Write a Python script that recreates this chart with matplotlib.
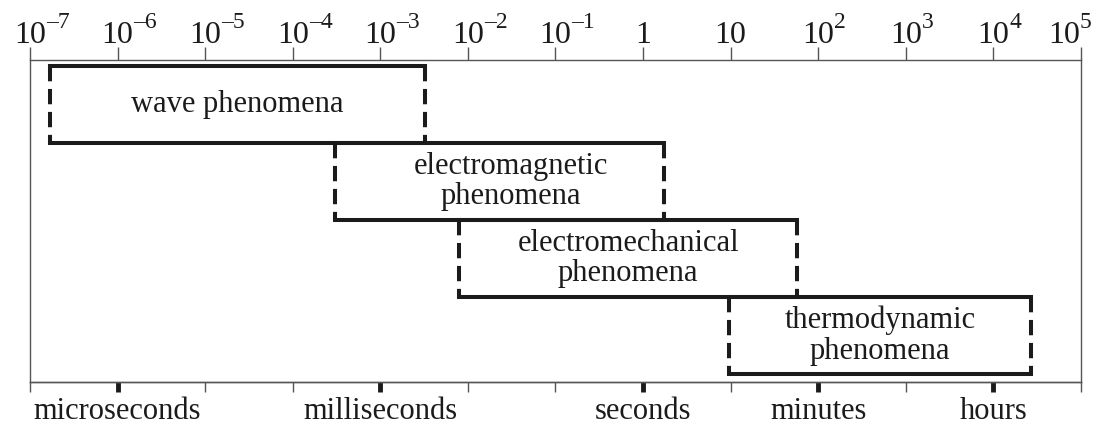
import numpy as np
import matplotlib
matplotlib.use("Agg")
import matplotlib.pyplot as plt
import matplotlib.transforms as mtransforms
from matplotlib.ticker import FixedLocator, NullFormatter

plt.rcParams.update({
    "font.family": "serif",
    "font.serif": ["Liberation Serif", "DejaVu Serif"],
    "figure.facecolor": "white",
    "axes.facecolor": "white",
})

INK = "#1b1b1b"
AXIS = "#555555"

# time ranges (s) over which each class of phenomena is studied
labels = ["wave phenomena", "electromagnetic\nphenomena",
          "electromechanical\nphenomena", "thermodynamic\nphenomena"]
t_start = [1.7e-7, 3.0e-4, 8.0e-3, 9.6]
t_end = [3.2e-3, 1.75, 57.0, 2.7e4]

# top scale: one tick per decade (base text + exponent)
decades = [1e-7, 1e-6, 1e-5, 1e-4, 1e-3, 1e-2, 1e-1, 1, 10, 1e2, 1e3, 1e4, 1e5]
bases = ["10"] * 7 + ["1", "10"] + ["10"] * 4
exps = ["\u20137", "\u20136", "\u20135", "\u20134", "\u20133", "\u20132", "\u20131",
        "", "", "2", "3", "4", "5"]

# bottom scale: named time units
unit_ticks = [1e-6, 1e-3, 1, 1e2, 1e4]
unit_labels = ["microseconds", "milliseconds", "seconds", "minutes", "hours"]

fig = plt.figure(figsize=(11.06, 4.25), dpi=100)
ax = fig.add_axes([0.0271, 0.1012, 0.9503, 0.7576])
ax.set_xscale("log")
ax.set_xlim(1e-7, 1e5)
ax.set_ylim(-0.104, 4.078)
ax.set_yticks([])
for s in ax.spines.values():
    s.set_color(AXIS)
    s.set_linewidth(1.0)

# decade ticks along the top; labels drawn by hand so the "10" sits on the tick
ax.xaxis.set_ticks_position("top")
ax.set_xticks(decades)
ax.set_xticklabels([])
ax.xaxis.set_minor_locator(FixedLocator([]))
ax.tick_params(axis="x", which="major", direction="out", length=9.5, width=1.0,
               color=AXIS)
top = mtransforms.blended_transform_factory(ax.transData, ax.transAxes)
base_y = 1.0 + 17 / 322
for k, (v, b, e) in enumerate(zip(decades, bases, exps)):
    # the last label is pulled left so it stays inside the figure
    dx = -17 / 100 if k == len(decades) - 1 else 0.0
    tr = top + mtransforms.ScaledTranslation(dx, 0, fig.dpi_scale_trans)
    ax.text(v, base_y, b, transform=tr, ha="center", va="baseline",
            fontsize=23, color=INK, clip_on=False)
    if e:
        sup = top + mtransforms.ScaledTranslation(dx + 16 / 100, 15 / 100,
                                                  fig.dpi_scale_trans)
        ax.text(v, base_y, e, transform=sup, ha="left", va="baseline",
                fontsize=17, color=INK, clip_on=False)

# unit labels along the bottom, thin ticks at every decade
bx = ax.secondary_xaxis("bottom")
bx.set_xticks(unit_ticks)
bx.set_xticklabels(unit_labels)
bx.xaxis.set_minor_locator(FixedLocator(decades))
bx.xaxis.set_minor_formatter(NullFormatter())
bx.spines["bottom"].set_color(AXIS)
bx.spines["bottom"].set_linewidth(1.0)
bx.tick_params(axis="x", which="major", direction="out", length=7.5, width=3.5,
               color=INK, labelsize=22, pad=3, labelcolor=INK)
bx.tick_params(axis="x", which="minor", direction="out", length=7.5, width=1.0,
               color=AXIS)

# one box per class: solid top/bottom, dashed ends
lw = 2.9
for i, (lab, t0, t1) in enumerate(zip(labels, t_start, t_end)):
    y0 = len(labels) - 1 - i
    y1 = y0 + 1
    ax.plot([t0, t1], [y1, y1], color=INK, lw=lw, solid_capstyle="projecting")
    ax.plot([t0, t1], [y0, y0], color=INK, lw=lw, solid_capstyle="projecting")
    for t in (t0, t1):
        ax.plot([t, t], [y1, y0], color=INK, lw=lw, dashes=(3.8, 1.9),
                dash_capstyle="butt")
    xc = np.sqrt(t0 * t1)
    if i == 1:
        xc *= 10 ** 0.13
    ax.text(xc, y0 + 0.5, lab, ha="center", va="center", fontsize=22,
            color=INK, linespacing=1.08)

fig.savefig("out.png", dpi=100)
